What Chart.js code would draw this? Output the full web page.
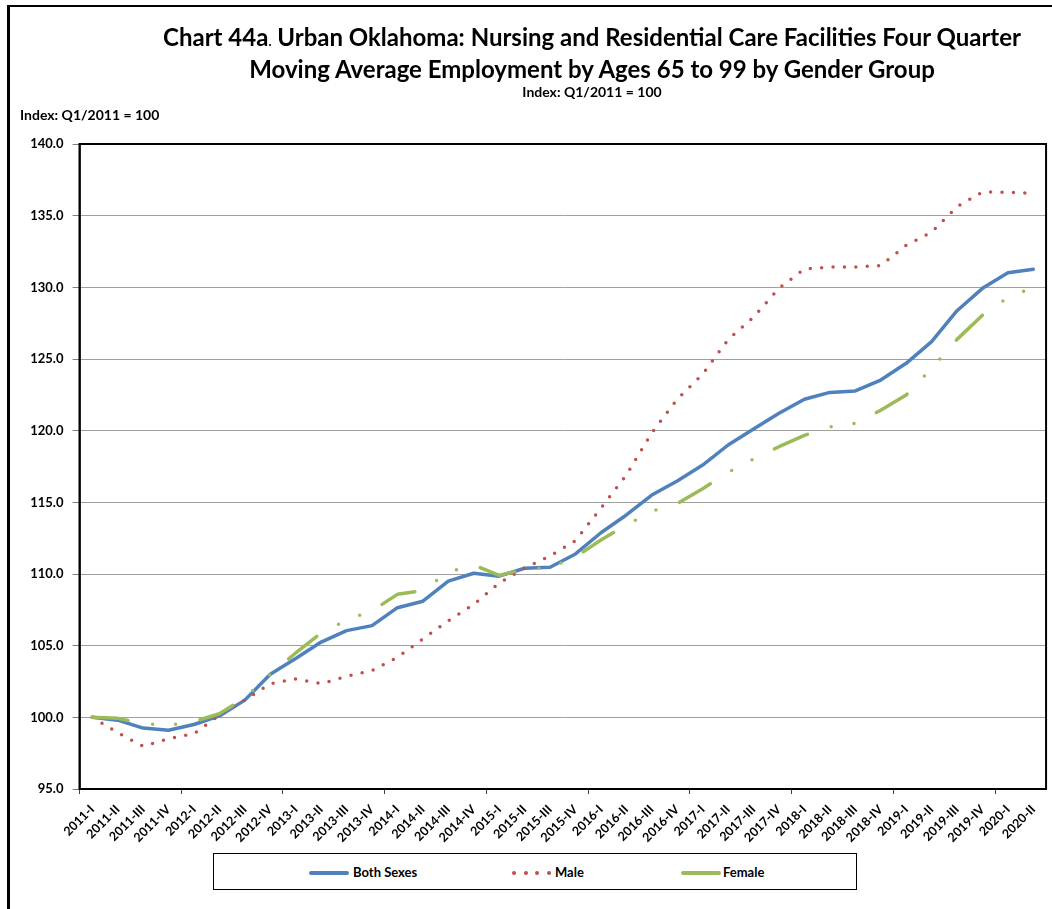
<!DOCTYPE html>
<html>
<head>
<meta charset="utf-8">
<script src="https://cdn.jsdelivr.net/npm/chart.js@4.4.0/dist/chart.umd.min.js"></script>
<style>
  body { margin: 0; background: #fff; font-family: Lato, "Open Sans", sans-serif; color: #000; }
  #frame { position: absolute; left: 7px; top: 5px; width: 1045px; height: 1000px; border: 2px solid #000; border-left-width: 3px; border-right: none; box-sizing: border-box; }
  #chart { position: absolute; left: 0; top: 0; }
  .txt { position: absolute; white-space: nowrap; font-weight: bold; }
  .center { transform: translateX(-50%); }
  #legend { position: absolute; left: 213px; top: 853px; width: 644px; height: 37px; border: 1px solid #000; box-sizing: border-box; background: #fff; }
  .swatch { position: absolute; top: 17px; height: 4px; border-radius: 2px; }
  .dot { position: absolute; top: 17px; width: 4px; height: 4px; border-radius: 2px; background: #C0504D; }
  .ltxt { position: absolute; top: 10px; font-size: 13px; line-height: 16px; font-weight: bold; }
</style>
</head>
<body>
<div id="frame"></div>
<canvas id="chart" width="1052" height="909"></canvas>

<div class="txt center" style="left:592px; top:22px; font-size:24px; line-height:30px;">Chart 44a<span style="font-size:13px">.</span> Urban Oklahoma: Nursing and Residential Care Facilities Four Quarter</div>
<div class="txt center" style="left:592px; top:54px; font-size:24px; line-height:30px;">Moving Average Employment by Ages 65 to 99 by Gender Group</div>
<div class="txt center" style="left:592px; top:84px; font-size:14px; line-height:16px;">Index: Q1/2011 = 100</div>
<div class="txt" style="left:20px; top:107px; font-size:14px; line-height:16px;">Index: Q1/2011 = 100</div>

<div id="legend">
  <div class="swatch" style="left:95px; width:40px; background:#4F81BD;"></div>
  <div class="ltxt" style="left:139px;">Both Sexes</div>
  <div class="dot" style="left:298px;"></div>
  <div class="dot" style="left:310px;"></div>
  <div class="dot" style="left:321px;"></div>
  <div class="dot" style="left:333px;"></div>
  <div class="ltxt" style="left:341px;">Male</div>
  <div class="swatch" style="left:467px; width:40px; background:#9BBB59;"></div>
  <div class="ltxt" style="left:509px;">Female</div>
</div>

<script>
document.addEventListener('DOMContentLoaded', () => {
    // --- quarters 2011-I .. 2020-II ---
    const quarterLabels = [
        '2011-I', '2011-II', '2011-III', '2011-IV',
        '2012-I', '2012-II', '2012-III', '2012-IV',
        '2013-I', '2013-II', '2013-III', '2013-IV',
        '2014-I', '2014-II', '2014-III', '2014-IV',
        '2015-I', '2015-II', '2015-III', '2015-IV',
        '2016-I', '2016-II', '2016-III', '2016-IV',
        '2017-I', '2017-II', '2017-III', '2017-IV',
        '2018-I', '2018-II', '2018-III', '2018-IV',
        '2019-I', '2019-II', '2019-III', '2019-IV',
        '2020-I', '2020-II'
    ];

    const bothSexes = [
        100.0, 99.8, 99.25, 99.1, 99.5, 100.1, 101.2, 103.0,
        104.1, 105.25, 106.05, 106.4, 107.65, 108.1, 109.5, 110.05,
        109.85, 110.4, 110.47, 111.4, 112.88, 114.12, 115.51, 116.49,
        117.6, 119.0, 120.12, 121.21, 122.19, 122.67, 122.77, 123.53,
        124.7, 126.21, 128.37, 129.93, 131.02, 131.26
    ];

    const male = [
        100.0, 98.93, 97.98, 98.51, 98.86, 100.14, 101.21, 102.35,
        102.67, 102.35, 102.86, 103.26, 104.19, 105.47, 106.74, 107.88,
        109.37, 110.42, 111.26, 112.33, 114.6, 116.9, 119.85, 122.2,
        123.95, 126.35, 127.93, 129.93, 131.28, 131.42, 131.42, 131.52,
        132.93, 133.84, 135.63, 136.65, 136.63, 136.56
    ];

    const female = [
        100.0, 99.93, 99.55, 99.45, 99.7, 100.25, 101.35, 103.02,
        104.49, 105.88, 106.79, 107.43, 108.58, 108.85, 110.14, 110.63,
        109.9, 110.35, 110.44, 111.19, 112.37, 113.42, 114.37, 114.91,
        115.95, 117.09, 118.02, 118.88, 119.67, 120.26, 120.51, 121.42,
        122.49, 124.35, 126.37, 128.05, 129.3, 130.0
    ];

    const yMin = 95, yMax = 140, yStep = 5;
    const tickFont = { family: 'Lato', size: 13, weight: 'bold' };

    // black box round the plot area
    const plotFrame = {
        id: 'plotFrame',
        afterDatasetsDraw(chart) {
            const { ctx, chartArea: a } = chart;
            ctx.save();
            ctx.strokeStyle = '#000';
            ctx.lineWidth = 2;
            ctx.strokeRect(a.left, a.top, a.right - a.left, a.bottom - a.top);
            ctx.restore();
        }
    };

    const ctx = document.getElementById('chart').getContext('2d');
    new Chart(ctx, {
        type: 'line',
        data: {
            labels: quarterLabels,
            datasets: [
                {
                    label: 'Both Sexes',
                    data: bothSexes,
                    borderColor: '#4F81BD',
                    borderWidth: 3.5,
                    borderJoinStyle: 'round',
                    borderCapStyle: 'round',
                    pointRadius: 0,
                    tension: 0,
                    order: 3
                },
                {
                    label: 'Male',
                    data: male,
                    borderColor: '#C0504D',
                    borderWidth: 3.5,
                    borderDash: [0, 11.4],
                    borderCapStyle: 'round',
                    pointRadius: 0,
                    tension: 0,
                    order: 2
                },
                {
                    label: 'Female',
                    data: female,
                    borderColor: '#9BBB59',
                    borderWidth: 3.5,
                    borderDash: [36, 25, 0, 23, 0, 25],
                    borderCapStyle: 'round',
                    borderJoinStyle: 'round',
                    pointRadius: 0,
                    tension: 0,
                    order: 1
                }
            ]
        },
        options: {
            responsive: false,
            animation: false,
            layout: { padding: { top: 144, right: 4, left: 0, bottom: 0 } },
            plugins: {
                legend: { display: false },
                tooltip: { enabled: false },
                title: { display: false }
            },
            scales: {
                x: {
                    type: 'category',
                    offset: true,
                    afterFit: (scale) => { scale.height = 120; },
                    grid: {
                        offset: true,
                        drawOnChartArea: false,
                        tickLength: 5,
                        color: (c) => (c.index % 4 === 0 ? '#404040' : 'rgba(0,0,0,0)')
                    },
                    border: { color: '#000', width: 2 },
                    ticks: {
                        autoSkip: false,
                        maxRotation: 45,
                        minRotation: 45,
                        padding: 8,
                        color: '#000',
                        font: { family: 'Lato', size: 12.5, weight: 'bold' }
                    }
                },
                y: {
                    min: yMin,
                    max: yMax,
                    afterFit: (scale) => { scale.width = 79.5; },
                    grid: {
                        color: '#a0a0a0',
                        lineWidth: 1,
                        tickLength: 7,
                        tickColor: '#808080'
                    },
                    border: { color: '#404040', width: 2 },
                    ticks: {
                        stepSize: yStep,
                        padding: 9,
                        color: '#000',
                        font: tickFont,
                        callback: (v) => Number(v).toFixed(1)
                    }
                }
            }
        },
        plugins: [plotFrame]
    });
});
</script>
</body>
</html>
